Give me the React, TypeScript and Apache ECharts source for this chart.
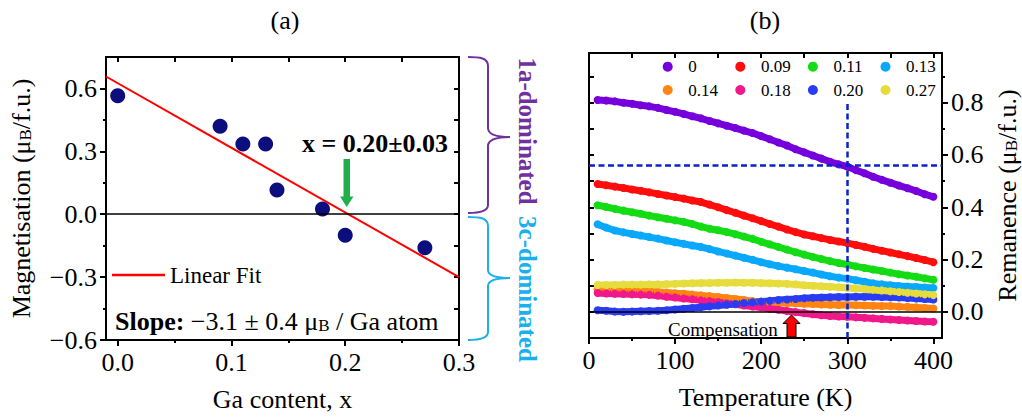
import React, { useEffect, useRef } from 'react';
import * as echarts from 'echarts';

// ---------- Panel (a) data ----------
const gaContent = [0, 0.09, 0.11, 0.13, 0.14, 0.18, 0.2, 0.27];
const magnetisation = [0.565, 0.42, 0.335, 0.335, 0.115, 0.025, -0.1, -0.16];
const fitX = [-0.0103, 0.3];
const fitY = [0.657, -0.3];
const gaMajorTicks = [0, 0.1, 0.2, 0.3];
const gaMinorTicks = [0.05, 0.15, 0.25];
const gaTopTicks = [0, 0.05, 0.1, 0.15, 0.2, 0.25, 0.3];
const magMajorTicks = [-0.6, -0.3, 0, 0.3, 0.6];
const magMinorTicks = [-0.45, -0.15, 0.15, 0.45];
const magRightTicks = [-0.45, -0.3, -0.15, 0, 0.15, 0.3, 0.45, 0.6];

// ---------- Panel (b) data ----------
const temperature = [10, 20, 30, 40, 50, 60, 70, 80, 90, 100, 110, 120, 130, 140, 150, 160, 170, 180, 190, 200,
  210, 220, 230, 240, 250, 260, 270, 280, 290, 300, 310, 320, 330, 340, 350, 360, 370, 380, 390, 400];
const rem000 = [0.81, 0.808, 0.805, 0.8, 0.796, 0.79, 0.786, 0.78, 0.772, 0.765, 0.757, 0.748, 0.74, 0.73, 0.721, 0.712, 0.703, 0.693, 0.684, 0.672,
  0.66, 0.648, 0.636, 0.622, 0.61, 0.598, 0.586, 0.574, 0.564, 0.556, 0.542, 0.53, 0.517, 0.505, 0.494, 0.483, 0.473, 0.462, 0.45, 0.44];
const rem009 = [0.489, 0.484, 0.479, 0.474, 0.468, 0.463, 0.457, 0.451, 0.445, 0.439, 0.433, 0.426, 0.42, 0.41, 0.4, 0.389, 0.379, 0.368, 0.358, 0.347,
  0.336, 0.326, 0.315, 0.305, 0.296, 0.289, 0.282, 0.275, 0.269, 0.263, 0.256, 0.249, 0.241, 0.234, 0.227, 0.22, 0.213, 0.206, 0.198, 0.19];
const rem011 = [0.408, 0.401, 0.394, 0.387, 0.381, 0.375, 0.368, 0.362, 0.356, 0.35, 0.344, 0.336, 0.326, 0.318, 0.312, 0.305, 0.297, 0.288, 0.279, 0.268,
  0.258, 0.248, 0.238, 0.228, 0.219, 0.21, 0.202, 0.194, 0.187, 0.181, 0.174, 0.168, 0.162, 0.156, 0.15, 0.144, 0.139, 0.134, 0.128, 0.123];
const rem013 = [0.335, 0.322, 0.311, 0.304, 0.298, 0.292, 0.286, 0.28, 0.273, 0.266, 0.26, 0.254, 0.248, 0.24, 0.231, 0.223, 0.215, 0.207, 0.199, 0.19,
  0.182, 0.175, 0.169, 0.163, 0.156, 0.15, 0.143, 0.136, 0.131, 0.127, 0.121, 0.115, 0.109, 0.105, 0.102, 0.099, 0.097, 0.095, 0.093, 0.091];
const rem014 = [0.086, 0.085, 0.083, 0.082, 0.081, 0.079, 0.078, 0.076, 0.074, 0.071, 0.069, 0.066, 0.063, 0.06, 0.057, 0.053, 0.049, 0.045, 0.041, 0.038,
  0.036, 0.035, 0.034, 0.033, 0.031, 0.03, 0.028, 0.027, 0.026, 0.026, 0.025, 0.024, 0.023, 0.022, 0.022, 0.02, 0.019, 0.017, 0.015, 0.013];
const rem018 = [0.072, 0.07, 0.069, 0.068, 0.067, 0.066, 0.065, 0.062, 0.058, 0.055, 0.051, 0.048, 0.044, 0.041, 0.038, 0.033, 0.029, 0.024, 0.02, 0.017,
  0.012, 0.008, 0.003, -0.001, -0.005, -0.009, -0.013, -0.016, -0.018, -0.019, -0.021, -0.023, -0.025, -0.027, -0.029, -0.031, -0.033, -0.035, -0.037, -0.038];
const rem020 = [0.006, 0.004, 0.001, 0, 0.001, 0.002, 0.003, 0.004, 0.006, 0.009, 0.012, 0.015, 0.018, 0.021, 0.024, 0.027, 0.03, 0.034, 0.037, 0.039,
  0.042, 0.045, 0.047, 0.049, 0.052, 0.054, 0.055, 0.056, 0.057, 0.057, 0.058, 0.058, 0.058, 0.057, 0.056, 0.055, 0.053, 0.051, 0.049, 0.047];
const rem027 = [0.103, 0.103, 0.103, 0.104, 0.104, 0.104, 0.105, 0.105, 0.106, 0.107, 0.108, 0.109, 0.11, 0.11, 0.111, 0.111, 0.112, 0.111, 0.111, 0.11,
  0.109, 0.108, 0.107, 0.105, 0.102, 0.1, 0.098, 0.096, 0.094, 0.092, 0.089, 0.087, 0.084, 0.082, 0.079, 0.076, 0.073, 0.07, 0.067, 0.064];
const seriesNames = ['0', '0.09', '0.11', '0.13', '0.14', '0.18', '0.20', '0.27'];
const seriesValues = [rem000, rem009, rem011, rem013, rem014, rem018, rem020, rem027];
const seriesColors = ['#7600dc', '#ff0c0c', '#14dc14', '#0aa8fa', '#ff8412', '#f0188a', '#2a3cf2', '#e6dc3c'];
const tempMajorTicks = [0, 100, 200, 300, 400];
const tempMinorTicks = [50, 150, 250, 350];
const tempTopTicks = [0, 50, 100, 150, 200, 250, 300, 350, 400];
const remMajorTicks = [0, 0.2, 0.4, 0.6, 0.8];
const remMinorTicks = [0.1, 0.3, 0.5, 0.7, 0.9];
const remLeftTicks = [0, 0.1, 0.2, 0.3, 0.4, 0.5, 0.6, 0.7, 0.8, 0.9];
const crossT = 300;
const crossRem = 0.5615;

const FONT = 'Liberation Serif';
const black = '#000';

const fmt1 = (v: number) => (v < 0 ? '\u2212' : '') + Math.abs(v).toFixed(1);
const fmt0 = (v: number) => String(Math.round(v));

function axisBase(gridIndex: number, min: number, max: number, position: string) {
  return {
    gridIndex,
    type: 'value',
    min,
    max,
    position,
    splitLine: { show: false },
    axisLine: { show: true, onZero: false, lineStyle: { color: black, width: 2 } },
  } as any;
}

function majorAxis(gridIndex: number, min: number, max: number, position: string, ticks: number[], formatter: any, extra: any) {
  return {
    ...axisBase(gridIndex, min, max, position),
    axisTick: { show: true, inside: false, length: 6, customValues: ticks, lineStyle: { color: black, width: 2 } },
    axisLabel: { show: true, customValues: ticks, formatter, fontFamily: FONT, fontSize: 26, color: black, margin: 9 },
    ...extra,
  };
}

function tickAxis(gridIndex: number, min: number, max: number, position: string, ticks: number[], inside: boolean, length: number, showLine: boolean) {
  const a = axisBase(gridIndex, min, max, position);
  a.axisLine.show = showLine;
  a.axisTick = { show: true, inside, length, customValues: ticks, lineStyle: { color: black, width: 2 } };
  a.axisLabel = { show: false };
  return a;
}

const nameStyle = {
  fontFamily: FONT,
  fontSize: 26,
  color: black,
  rich: {
    sub: { fontFamily: FONT, fontSize: 17, color: black, padding: [9, 0, 0, 0] },
  },
};

export default function App() {
  const ref = useRef<HTMLDivElement>(null);
  useEffect(() => {
    if (!ref.current) return;
    const chart = echarts.init(ref.current, undefined, { renderer: 'svg' });

    echarts.graphic.registerShape('bracketA', echarts.graphic.extendPath(
      'M468,57 C480,57 488,58 488,66 L488,128 C488,134 494,137 510,137 C494,137 488,140 488,146 L488,205 C488,211 480,213 468,213', {}));
    echarts.graphic.registerShape('bracketB', echarts.graphic.extendPath(
      'M468,217 C480,217 488,218 488,226 L488,270 C488,275 494,278 510,278 C494,278 488,281 488,286 L488,332 C488,338 480,340 468,340', {}));

    const rightSeries = seriesNames.map((name, i) => ({
      type: 'line',
      name,
      xAxisIndex: 3,
      yAxisIndex: 3,
      data: temperature.map((t, j) => [t, seriesValues[i][j]]),
      showSymbol: true,
      showAllSymbol: true,
      symbol: 'circle',
      symbolSize: 8,
      itemStyle: { color: seriesColors[i], opacity: 1 },
      lineStyle: { color: seriesColors[i], width: 7 },
      z: 3,
    }));

    const option: any = {
      animation: false,
      grid: [
        { left: 106, top: 57, width: 353, height: 283 },
        { left: 589, top: 53, width: 353, height: 285 },
      ],
      xAxis: [
        majorAxis(0, -0.0103, 0.3, 'bottom', gaMajorTicks, fmt1, {
          name: 'Ga content, x', nameLocation: 'middle', nameGap: 46, nameTextStyle: nameStyle,
        }),
        tickAxis(0, -0.0103, 0.3, 'bottom', gaMinorTicks, false, 3, false),
        tickAxis(0, -0.0103, 0.3, 'top', gaTopTicks, true, 5, true),
        majorAxis(1, 0, 410, 'bottom', tempMajorTicks, fmt0, {
          name: 'Temperature (K)', nameLocation: 'middle', nameGap: 46, nameTextStyle: nameStyle,
        }),
        tickAxis(1, 0, 410, 'bottom', tempMinorTicks, false, 3, false),
        tickAxis(1, 0, 410, 'top', tempTopTicks, true, 5, true),
      ],
      yAxis: [
        majorAxis(0, -0.6, 0.75, 'left', magMajorTicks, fmt1, {
          name: 'Magnetisation (\u03bc{sub|B}/f.u.)', nameLocation: 'middle', nameRotate: 90, nameGap: 72, nameTextStyle: nameStyle,
        }),
        tickAxis(0, -0.6, 0.75, 'left', magMinorTicks, false, 3, false),
        tickAxis(0, -0.6, 0.75, 'right', magRightTicks, true, 5, true),
        majorAxis(1, -0.1, 0.99, 'right', remMajorTicks, fmt1, {
          name: 'Remanence (\u03bc{sub|B}/f.u.)', nameLocation: 'middle', nameRotate: 90, nameGap: 52, nameTextStyle: nameStyle,
        }),
        tickAxis(1, -0.1, 0.99, 'right', remMinorTicks, false, 3, false),
        tickAxis(1, -0.1, 0.99, 'left', remLeftTicks, true, 5, true),
      ],
      legend: [
        {
          data: [{ name: 'Linear Fit', icon: 'rect' }], left: 112, top: 262, padding: 0, itemWidth: 53, itemHeight: 2.5,
          textStyle: { fontFamily: FONT, fontSize: 23, color: black, lineHeight: 26 },
        },
        {
          data: seriesNames.slice(0, 4), left: 662.7, top: 57.7, padding: 0, icon: 'circle', itemWidth: 10, itemHeight: 10, itemGap: 13,
          textStyle: { fontFamily: FONT, fontSize: 17, color: black, lineHeight: 18, width: 34, padding: [0, 0, 0, 10.6] },
        },
        {
          data: seriesNames.slice(4), left: 662.7, top: 81, padding: 0, icon: 'circle', itemWidth: 10, itemHeight: 10, itemGap: 13,
          textStyle: { fontFamily: FONT, fontSize: 17, color: black, lineHeight: 18, width: 34, padding: [0, 0, 0, 10.6] },
        },
      ],
      series: [
        {
          type: 'scatter',
          name: 'Magnetisation',
          xAxisIndex: 0,
          yAxisIndex: 0,
          data: gaContent.map((x, i) => [x, magnetisation[i]]),
          symbolSize: 15,
          itemStyle: { color: '#0c0e7e', opacity: 1 },
          z: 3,
          markLine: {
            silent: true, symbol: 'none', label: { show: false },
            lineStyle: { color: black, width: 1.5, type: 'solid' },
            data: [{ yAxis: 0 }],
          },
        },
        {
          type: 'line',
          name: 'Linear Fit',
          xAxisIndex: 0,
          yAxisIndex: 0,
          data: fitX.map((x, i) => [x, fitY[i]]),
          symbol: 'none',
          lineStyle: { color: '#ff0000', width: 2 },
          itemStyle: { color: '#ff0000' },
          z: 4,
        },
        {
          type: 'line',
          name: 'zero-b',
          xAxisIndex: 3,
          yAxisIndex: 3,
          data: [],
          markLine: {
            silent: true, symbol: 'none', label: { show: false },
            lineStyle: { color: black, width: 1.5, type: 'solid' },
            data: [{ yAxis: 0 }],
          },
        },
        ...rightSeries,
        {
          type: 'line',
          name: 'guides',
          xAxisIndex: 3,
          yAxisIndex: 3,
          data: [],
          z: 5,
          markLine: {
            silent: true, symbol: 'none', label: { show: false },
            lineStyle: { color: '#0a22cc', width: 2.5, type: [6, 3.5] },
            data: [
              [{ coord: [crossT, -0.1] }, { coord: [crossT, 0.8] }],
              [{ coord: [0, crossRem] }, { coord: [410, crossRem] }],
            ],
          },
        },
      ],
      graphic: [
        { type: 'text', x: 285, y: 20, style: { text: '(a)', fontFamily: FONT, fontSize: 26, fill: black, align: 'center', verticalAlign: 'middle' } },
        { type: 'text', x: 765, y: 20, style: { text: '(b)', fontFamily: FONT, fontSize: 26, fill: black, align: 'center', verticalAlign: 'middle' } },
        {
          type: 'text', x: 302, y: 143,
          style: { text: 'x = 0.20\u00b10.03', fontFamily: FONT, fontSize: 26, fontWeight: 'bold', fill: black, verticalAlign: 'middle' },
        },
        {
          type: 'polygon', z: 10,
          shape: { points: [[343.5, 159], [350, 159], [350, 196.5], [353.5, 196.5], [346.7, 207], [340, 196.5], [343.5, 196.5]] },
          style: { fill: '#1faf4b' },
        },
        {
          type: 'text', x: 115, y: 321, z: 10,
          style: {
            text: '{b|Slope:} \u22123.1 \u00b1 0.4 \u03bc{sub|B} / Ga atom',
            fontFamily: FONT, fontSize: 26, fill: black, verticalAlign: 'middle',
            rich: {
              b: { fontFamily: FONT, fontSize: 26, fontWeight: 'bold', fill: black },
              sub: { fontFamily: FONT, fontSize: 17, fill: black, padding: [9, 0, 0, 0] },
            },
          },
        },
        { type: 'bracketA', x: 0, y: 0, style: { stroke: '#7030a0', lineWidth: 2, fill: null } },
        { type: 'bracketB', x: 0, y: 0, style: { stroke: '#1ab0ee', lineWidth: 2, fill: null } },
        {
          type: 'text', x: 527, y: 131, rotation: -Math.PI / 2,
          style: { text: '1a-dominated', fontFamily: FONT, fontSize: 25, fontWeight: 'bold', fill: '#7030a0', align: 'center', verticalAlign: 'middle' },
        },
        {
          type: 'text', x: 527, y: 289, rotation: -Math.PI / 2,
          style: { text: '3c-dominated', fontFamily: FONT, fontSize: 25, fontWeight: 'bold', fill: '#1ab0ee', align: 'center', verticalAlign: 'middle' },
        },
        {
          type: 'text', x: 668, y: 329, z: 10,
          style: { text: 'Compensation', fontFamily: FONT, fontSize: 19, fill: black, verticalAlign: 'middle' },
        },
        {
          type: 'polygon', z: 10,
          shape: { points: [[791.5, 315], [800, 323.5], [796, 323.5], [796, 337], [787, 337], [787, 323.5], [783, 323.5]] },
          style: { fill: '#ff0000', stroke: black, lineWidth: 1 },
        },
      ],
    };

    chart.setOption(option);
    return () => chart.dispose();
  }, []);

  return <div ref={ref} style={{ position: 'absolute', left: 0, top: 0, width: 1022, height: 419 }} />;
}
